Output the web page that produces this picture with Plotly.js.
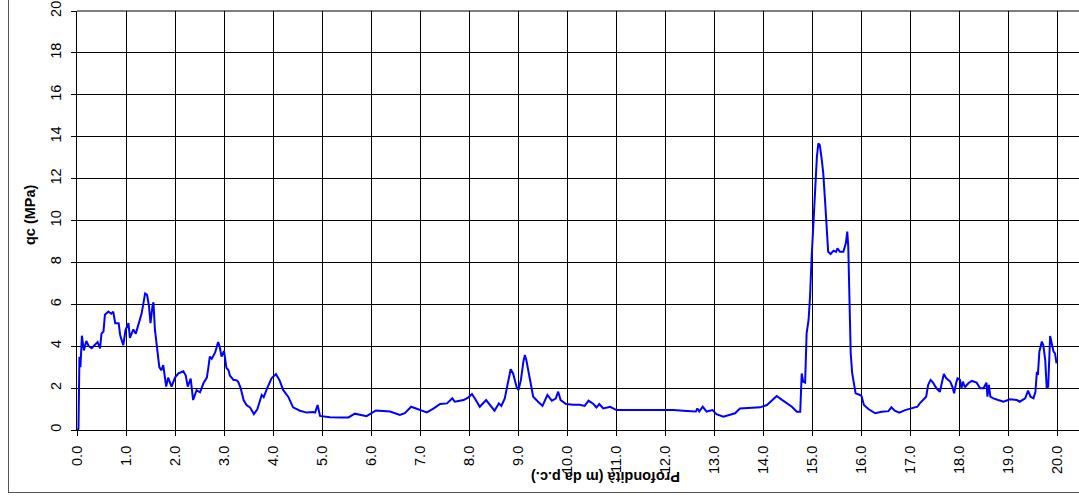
<!DOCTYPE html>
<html>
<head>
<meta charset="utf-8">
<script src="https://cdn.plot.ly/plotly-3.0.1.min.js"></script>
<style>
  html, body { margin: 0; padding: 0; background: #fff; overflow: hidden; width: 1079px; height: 498px; }
  #wrap { position: relative; width: 1079px; height: 498px; overflow: hidden; }
  /* outer chart frame: only its left and bottom sides fall inside the page */
  #frame { position: absolute; left: 8px; top: -10px; width: 1200px; height: 503px;
           border-left: 1.5px solid #555; border-bottom: 1.5px solid #555; box-sizing: border-box;
           pointer-events: none; }
  #chart { position: absolute; left: 0; top: 0; width: 1079px; height: 498px; }
</style>
</head>
<body>
<div id="wrap">
  <div id="chart"></div>
  <div id="frame"></div>
</div>
<script>
// CPT sounding: cone resistance qc against depth
const depth = [
  0, 0.03, 0.05, 0.07, 0.1, 0.14, 0.19, 0.24, 0.3, 0.37, 0.42, 0.47, 0.5, 0.54, 0.57, 0.64, 0.7, 0.74, 0.78, 0.85,
  0.88, 0.91, 0.945, 0.99, 1.05, 1.08, 1.15, 1.2, 1.25, 1.32, 1.39, 1.43, 1.47, 1.5, 1.54, 1.56, 1.59, 1.63, 1.68, 1.72,
  1.76, 1.82, 1.86, 1.93, 2.0, 2.07, 2.17, 2.22, 2.26, 2.32, 2.37, 2.44, 2.51, 2.58, 2.65, 2.68, 2.71, 2.75, 2.82, 2.88,
  2.91, 2.95, 3.0, 3.05, 3.09, 3.12, 3.19, 3.26, 3.29, 3.34, 3.4, 3.46, 3.53, 3.61, 3.68, 3.77, 3.81, 3.88, 3.97, 4.06,
  4.13, 4.21, 4.31, 4.41, 4.55, 4.69, 4.82, 4.86, 4.91, 4.96, 5.16, 5.37, 5.54, 5.67, 5.81, 5.91, 6.1, 6.39, 6.59, 6.69,
  6.82, 6.95, 7.14, 7.28, 7.41, 7.55, 7.66, 7.71, 7.89, 7.99, 8.06, 8.12, 8.22, 8.35, 8.43, 8.52, 8.61, 8.66, 8.73, 8.79,
  8.85, 8.9, 8.97, 9.01, 9.06, 9.11, 9.14, 9.17, 9.21, 9.26, 9.31, 9.41, 9.5, 9.6, 9.69, 9.77, 9.82, 9.87, 9.98, 10.13,
  10.26, 10.36, 10.44, 10.54, 10.6, 10.66, 10.74, 10.88, 11.01, 11.22, 11.49, 11.76, 12.03, 12.17, 12.44, 12.63, 12.66, 12.7, 12.77, 12.85,
  12.97, 13.05, 13.19, 13.33, 13.43, 13.53, 13.7, 13.94, 14.08, 14.18, 14.28, 14.38, 14.48, 14.59, 14.69, 14.76, 14.79, 14.82, 14.86, 14.89,
  14.93, 14.96, 14.99, 15.03, 15.06, 15.1, 15.13, 15.16, 15.2, 15.23, 15.27, 15.3, 15.33, 15.38, 15.44, 15.49, 15.52, 15.57, 15.64, 15.69,
  15.72, 15.74, 15.76, 15.79, 15.82, 15.86, 15.89, 15.98, 16.01, 16.06, 16.15, 16.29, 16.42, 16.56, 16.62, 16.69, 16.78, 16.9, 17.03, 17.15,
  17.2, 17.27, 17.33, 17.37, 17.42, 17.47, 17.54, 17.61, 17.64, 17.69, 17.74, 17.82, 17.87, 17.9, 17.94, 17.97, 18.02, 18.05, 18.08, 18.12,
  18.19, 18.26, 18.36, 18.43, 18.5, 18.56, 18.58, 18.61, 18.64, 18.7, 18.8, 18.91, 19.04, 19.18, 19.24, 19.35, 19.41, 19.46, 19.52, 19.56,
  19.59, 19.61, 19.64, 19.69, 19.72, 19.76, 19.79, 19.82, 19.86, 19.89, 19.93, 19.96, 19.99
];
const qc = [
  0, 0.05, 3.5, 3.0, 4.5, 3.8, 4.25, 4.0, 3.9, 4.05, 4.2, 3.9, 4.6, 4.7, 5.5, 5.65, 5.55, 5.65, 5.1, 5.1,
  4.55, 4.3, 4.05, 4.77, 5.1, 4.4, 4.8, 4.6, 5.0, 5.57, 6.52, 6.45, 5.9, 5.1, 5.9, 6.1, 4.8, 3.98, 3.0, 2.85,
  3.1, 2.07, 2.5, 2.07, 2.5, 2.7, 2.8, 2.6, 2.07, 2.45, 1.43, 1.9, 1.8, 2.23, 2.5, 2.97, 3.5, 3.4, 3.7, 4.2,
  4.0, 3.5, 3.78, 2.97, 2.86, 2.6, 2.4, 2.37, 2.3, 2.0, 1.43, 1.19, 1.08, 0.76, 0.99, 1.67, 1.57, 1.99, 2.47, 2.67,
  2.39, 1.9, 1.59, 1.08, 0.92, 0.83, 0.86, 0.83, 1.19, 0.67, 0.61, 0.6, 0.6, 0.78, 0.72, 0.66, 0.93, 0.88, 0.72, 0.8,
  1.11, 0.99, 0.84, 1.03, 1.24, 1.27, 1.51, 1.35, 1.43, 1.56, 1.72, 1.5, 1.11, 1.43, 1.2, 0.92, 1.27, 1.15, 1.51, 2.15,
  2.9, 2.7, 2.07, 1.91, 2.39, 3.26, 3.58, 3.34, 2.78, 2.23, 1.59, 1.35, 1.15, 1.67, 1.4, 1.5, 1.83, 1.43, 1.24, 1.2,
  1.2, 1.15, 1.4, 1.24, 1.08, 1.24, 1.03, 1.11, 0.95, 0.95, 0.95, 0.92, 0.92, 0.95, 0.91, 0.88, 1.03, 0.88, 1.11, 0.88,
  0.95, 0.76, 0.64, 0.72, 0.8, 1.03, 1.05, 1.08, 1.19, 1.4, 1.62, 1.45, 1.3, 1.11, 0.87, 0.87, 2.7, 2.31, 2.26, 4.61,
  5.25, 6.36, 8.11, 9.86, 11.77, 13.05, 13.68, 13.6, 12.89, 12.25, 10.82, 9.55, 8.51, 8.4, 8.56, 8.5, 8.67, 8.51, 8.51, 8.91,
  9.47, 8.75, 6.05, 3.66, 2.71, 2.15, 1.75, 1.67, 1.62, 1.19, 1.0, 0.8, 0.87, 0.9, 1.08, 0.92, 0.83, 0.95, 1.03, 1.11,
  1.27, 1.43, 1.59, 2.15, 2.39, 2.26, 1.99, 1.83, 2.15, 2.67, 2.47, 2.31, 2.04, 1.75, 2.23, 2.47, 2.39, 1.99, 2.31, 2.04,
  2.23, 2.34, 2.26, 1.99, 1.99, 2.26, 1.59, 2.15, 1.59, 1.51, 1.43, 1.35, 1.47, 1.43, 1.35, 1.51, 1.88, 1.59, 1.51, 1.83,
  2.78, 2.63, 3.74, 4.22, 4.06, 3.34, 1.99, 2.07, 4.49, 4.14, 3.74, 3.66, 3.18
];

const xTitle = 'Profondità (m da p.c.)';
const yTitle = 'qc (MPa)';

const FONT = 'Arial, "Liberation Sans", sans-serif';
const PLOT_L = 77, PLOT_T = 11, PLOT_B = 430, W = 1079, H = 498;
const plotW = W - PLOT_L, plotH = PLOT_B - PLOT_T;
const px = v => (v - PLOT_L) / plotW;   // pixel -> paper x
const py = v => (PLOT_B - v) / plotH;   // pixel -> paper y

const trace = {
  x: depth,
  y: qc,
  type: 'scatter',
  mode: 'lines',
  line: { color: '#0000FF', width: 2 },
  hoverinfo: 'x+y'
};

const axisCommon = {
  ticks: 'outside',
  ticklen: 5,
  tickcolor: '#000',
  ticklabelstandoff: 4,
  showgrid: true,
  gridcolor: '#000',
  gridwidth: 1,
  showline: true,
  linecolor: '#000',
  linewidth: 1,
  zeroline: false,
  tickangle: -90,
  tickfont: { family: FONT, size: 14.5, color: '#000' }
};

const layout = {
  width: W,
  height: H,
  margin: { l: PLOT_L, r: 0, t: PLOT_T, b: H - PLOT_B, pad: 0 },
  paper_bgcolor: 'rgba(255,255,255,0)',
  plot_bgcolor: 'rgba(255,255,255,0)',
  showlegend: false,
  font: { family: FONT, size: 14.5, color: '#000' },
  xaxis: Object.assign({}, axisCommon, {
    range: [0, plotW / 49],
    tick0: 0,
    dtick: 1,
    tickformat: '.1f'
  }),
  yaxis: Object.assign({}, axisCommon, {
    range: [0, 20],
    tick0: 0,
    dtick: 2
  }),
  shapes: [
    // top edge of the plot area
    { type: 'line', xref: 'paper', yref: 'paper', x0: 0, x1: 1.02, y0: 1, y1: 1,
      line: { color: '#000', width: 1 } }
  ],
  annotations: [
    { text: '<b>' + xTitle + '</b>', xref: 'paper', yref: 'paper',
      x: px(606), y: py(477), xanchor: 'center', yanchor: 'middle',
      textangle: 180, showarrow: false, font: { family: FONT, size: 14.5, color: '#000' } },
    { text: '<b>' + yTitle + '</b>', xref: 'paper', yref: 'paper',
      x: px(30), y: py(215), xanchor: 'center', yanchor: 'middle',
      textangle: -90, showarrow: false, font: { family: FONT, size: 14.5, color: '#000' } }
  ]
};

Plotly.newPlot('chart', [trace], layout, { staticPlot: true, displayModeBar: false });
</script>
</body>
</html>
